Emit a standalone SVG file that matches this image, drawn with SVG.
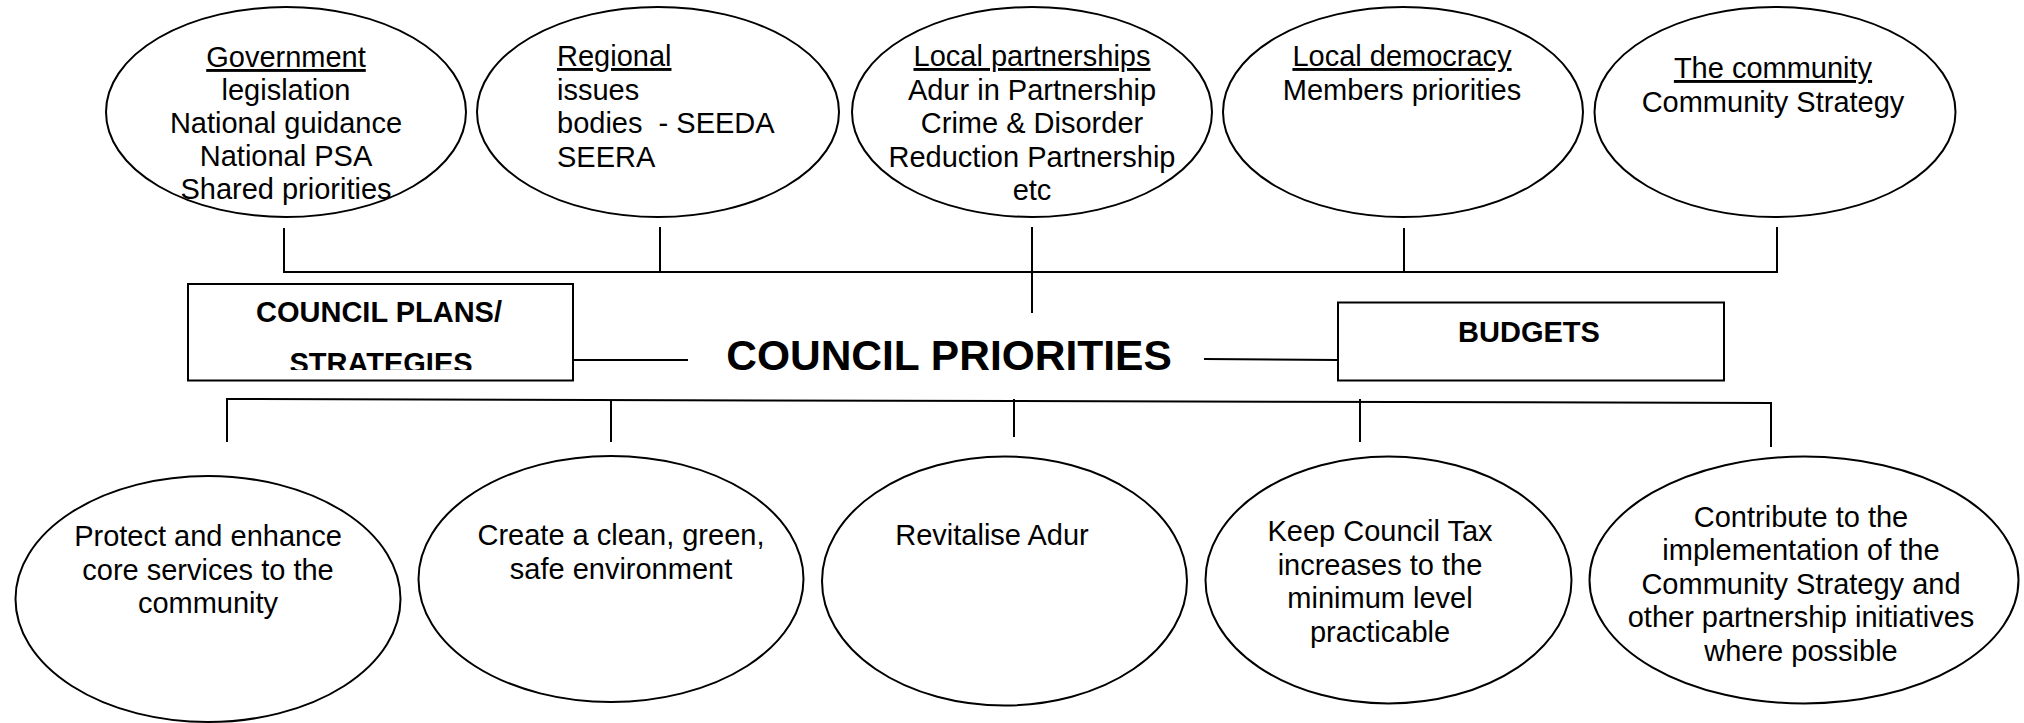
<svg xmlns="http://www.w3.org/2000/svg" width="2024" height="723" viewBox="0 0 2024 723">
  <style>
    .shape { fill: #ffffff; stroke: #000000; stroke-width: 2; }
    .link { fill: none; stroke: #000000; stroke-width: 2; }
    .t { font-family: "Liberation Sans", Arial, sans-serif; font-size: 29px; fill: #000000; }
    .c { text-anchor: middle; }
    .b { font-weight: bold; }
    .u { text-decoration: underline; }
    .big { font-size: 42.5px; }
  </style>
  <defs>
    <!-- text frame of the plans box cuts off the lower edge of the second line -->
    <clipPath id="plansClip">
      <rect x="188" y="284" width="385" height="86"/>
    </clipPath>
  </defs>

  <rect x="0" y="0" width="2024" height="723" fill="#ffffff"/>

  <!-- Influences (top row) -->
  <g id="government">
    <ellipse class="shape" cx="286" cy="112" rx="180" ry="105"/>
    <text class="t c" x="286" y="67"><tspan class="u">Government</tspan></text>
    <text class="t c" x="286" y="100">legislation</text>
    <text class="t c" x="286" y="133">National guidance</text>
    <text class="t c" x="286" y="166">National PSA</text>
    <text class="t c" x="286" y="199">Shared priorities</text>
  </g>

  <g id="regional">
    <ellipse class="shape" cx="658" cy="112" rx="181" ry="105"/>
    <text class="t" x="557" y="66"><tspan class="u">Regional</tspan></text>
    <text class="t" x="557" y="99.5">issues</text>
    <text class="t" x="557" y="133" xml:space="preserve">bodies  - SEEDA</text>
    <text class="t" x="557" y="167">SEERA</text>
  </g>

  <g id="local-partnerships">
    <ellipse class="shape" cx="1032" cy="112" rx="180" ry="105"/>
    <text class="t c" x="1032" y="66"><tspan class="u">Local partnerships</tspan></text>
    <text class="t c" x="1032" y="99.5">Adur in Partnership</text>
    <text class="t c" x="1032" y="133">Crime &amp; Disorder</text>
    <text class="t c" x="1032" y="166.5">Reduction Partnership</text>
    <text class="t c" x="1032" y="200">etc</text>
  </g>

  <g id="local-democracy">
    <ellipse class="shape" cx="1403" cy="112" rx="180" ry="105"/>
    <text class="t c" x="1402" y="66"><tspan class="u">Local democracy</tspan></text>
    <text class="t c" x="1402" y="99.5">Members priorities</text>
  </g>

  <g id="the-community">
    <ellipse class="shape" cx="1775" cy="112" rx="180.5" ry="105"/>
    <text class="t c" x="1773" y="78"><tspan class="u">The community</tspan></text>
    <text class="t c" x="1773" y="112">Community Strategy</text>
  </g>

  <!-- Centre band -->
  <g id="council-plans">
    <rect class="shape" x="188" y="284" width="385" height="96.5"/>
    <g clip-path="url(#plansClip)">
      <text class="t c b" x="379" y="321.5">COUNCIL PLANS/</text>
      <text class="t c b" x="381" y="372.5">STRATEGIES</text>
    </g>
  </g>

  <g id="council-priorities">
    <text class="t c b big" x="949" y="369.5">COUNCIL PRIORITIES</text>
  </g>

  <g id="budgets">
    <rect class="shape" x="1338" y="302.5" width="386" height="78"/>
    <text class="t c b" x="1529" y="341.5">BUDGETS</text>
  </g>

  <!-- Priorities (bottom row) -->
  <g id="core-services">
    <ellipse class="shape" cx="208" cy="599" rx="192.5" ry="123"/>
    <text class="t c" x="208" y="546">Protect and enhance</text>
    <text class="t c" x="208" y="579.5">core services to the</text>
    <text class="t c" x="208" y="613">community</text>
  </g>

  <g id="clean-green-safe">
    <ellipse class="shape" cx="611" cy="579" rx="192.5" ry="123"/>
    <text class="t c" x="621" y="545">Create a clean, green,</text>
    <text class="t c" x="621" y="579">safe environment</text>
  </g>

  <g id="revitalise">
    <ellipse class="shape" cx="1004.5" cy="581" rx="182.5" ry="124.5"/>
    <text class="t c" x="992" y="545">Revitalise Adur</text>
  </g>

  <g id="council-tax">
    <ellipse class="shape" cx="1388.5" cy="580" rx="183" ry="123.5"/>
    <text class="t c" x="1380" y="541">Keep Council Tax</text>
    <text class="t c" x="1380" y="574.5">increases to the</text>
    <text class="t c" x="1380" y="608">minimum level</text>
    <text class="t c" x="1380" y="641.5">practicable</text>
  </g>

  <g id="community-strategy">
    <ellipse class="shape" cx="1804" cy="580" rx="214.5" ry="123.5"/>
    <text class="t c" x="1801" y="527">Contribute to the</text>
    <text class="t c" x="1801" y="560">implementation of the</text>
    <text class="t c" x="1801" y="593.5">Community Strategy and</text>
    <text class="t c" x="1801" y="627">other partnership initiatives</text>
    <text class="t c" x="1801" y="660.5">where possible</text>
  </g>

  <!-- Connectors -->
  <g id="connectors" class="link">
    <!-- influences feed into the priorities -->
    <line x1="284" y1="228" x2="284" y2="272"/>
    <line x1="660" y1="227" x2="660" y2="272"/>
    <line x1="1032" y1="227" x2="1032" y2="313"/>
    <line x1="1404" y1="228" x2="1404" y2="272"/>
    <line x1="1777" y1="227" x2="1777" y2="272"/>
    <line x1="283" y1="272" x2="1778" y2="272"/>

    <!-- side boxes -->
    <line x1="573" y1="360" x2="688" y2="360"/>
    <line x1="1204" y1="359" x2="1338" y2="360"/>

    <!-- priorities branch out -->
    <line x1="226" y1="399" x2="1772" y2="403"/>
    <line x1="227" y1="399" x2="227" y2="442"/>
    <line x1="611" y1="400" x2="611" y2="442"/>
    <line x1="1014" y1="399" x2="1014" y2="437"/>
    <line x1="1360" y1="399" x2="1360" y2="442"/>
    <line x1="1771" y1="403" x2="1771" y2="447"/>
  </g>
</svg>
